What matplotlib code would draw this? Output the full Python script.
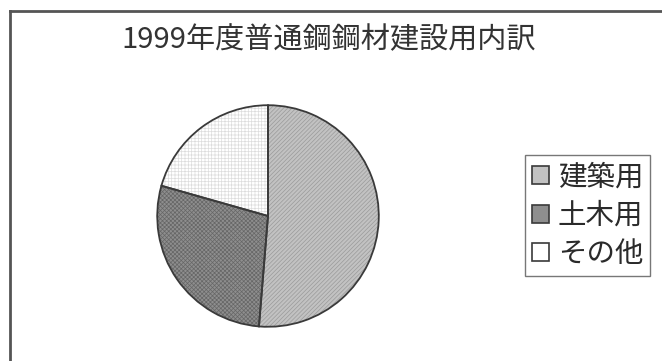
import matplotlib
matplotlib.use("Agg")
import matplotlib.pyplot as plt
from matplotlib.lines import Line2D

plt.rcParams['font.family'] = ['Noto Sans CJK JP', 'DejaVu Sans']
plt.rcParams['hatch.linewidth'] = 0.5

title = "1999年度普通鋼鋼材建設用内訳"
categories = ["建築用", "土木用", "その他"]
shares = [51.3, 28.1, 20.6]

face_colors = ["#c2c2c2", "#8e8e8e", "#ffffff"]
hatch_colors = ["#9a9a9a", "#666666", "#dcdcdc"]
hatches = ["////////", "xxxxxxxx", "+++++"]

fig = plt.figure(figsize=(6.62, 3.61), dpi=100)
fig.patch.set_facecolor("white")

# chart area frame (top and left edges)
fig.add_artist(Line2D([10 / 662, 10 / 662], [0, 1 - 11 / 361],
                      transform=fig.transFigure, color="#555555", lw=2))
fig.add_artist(Line2D([10 / 662, 1], [1 - 11 / 361, 1 - 11 / 361],
                      transform=fig.transFigure, color="#555555", lw=2))

fig.text(329 / 662, 1 - 40 / 361, title, ha="center", va="center",
         fontsize=21, color="#333333")

cx, cy, r = 268, 216, 113
ax = fig.add_axes([(cx - r) / 662, 1 - (cy + r) / 361, 2 * r / 662, 2 * r / 361])

# textured fill
wedges, _ = ax.pie(shares, startangle=90, counterclock=False,
                   colors=face_colors, wedgeprops=dict(linewidth=0))
for w, h, hc in zip(wedges, hatches, hatch_colors):
    w.set_hatch(h)
    w.set_edgecolor(hc)

# outlines
ax.pie(shares, startangle=90, counterclock=False,
       colors=["none"] * len(shares),
       wedgeprops=dict(linewidth=1.3, edgecolor="#3a3a3a", fill=False))
ax.set_aspect("equal")
ax.set_xlim(-1.02, 1.02)
ax.set_ylim(-1.02, 1.02)

leg = fig.legend(wedges, categories, loc="upper left",
                 bbox_to_anchor=(525 / 662, 1 - 155 / 361),
                 fontsize=20.5, frameon=True, fancybox=False,
                 handlelength=0.6, handleheight=0.6, handletextpad=0.3,
                 labelspacing=0.3, borderpad=0.25, borderaxespad=0)
leg.get_frame().set_edgecolor("#555555")
leg.get_frame().set_linewidth(1.0)
for t in leg.get_texts():
    t.set_color("#2a2a2a")
# plain swatches with dark borders in the key
for p, fc in zip(leg.get_patches(), face_colors):
    p.set_hatch(None)
    p.set_facecolor(fc)
    p.set_edgecolor("#3a3a3a")
    p.set_linewidth(1.2)

fig.savefig("out.png", dpi=100)
